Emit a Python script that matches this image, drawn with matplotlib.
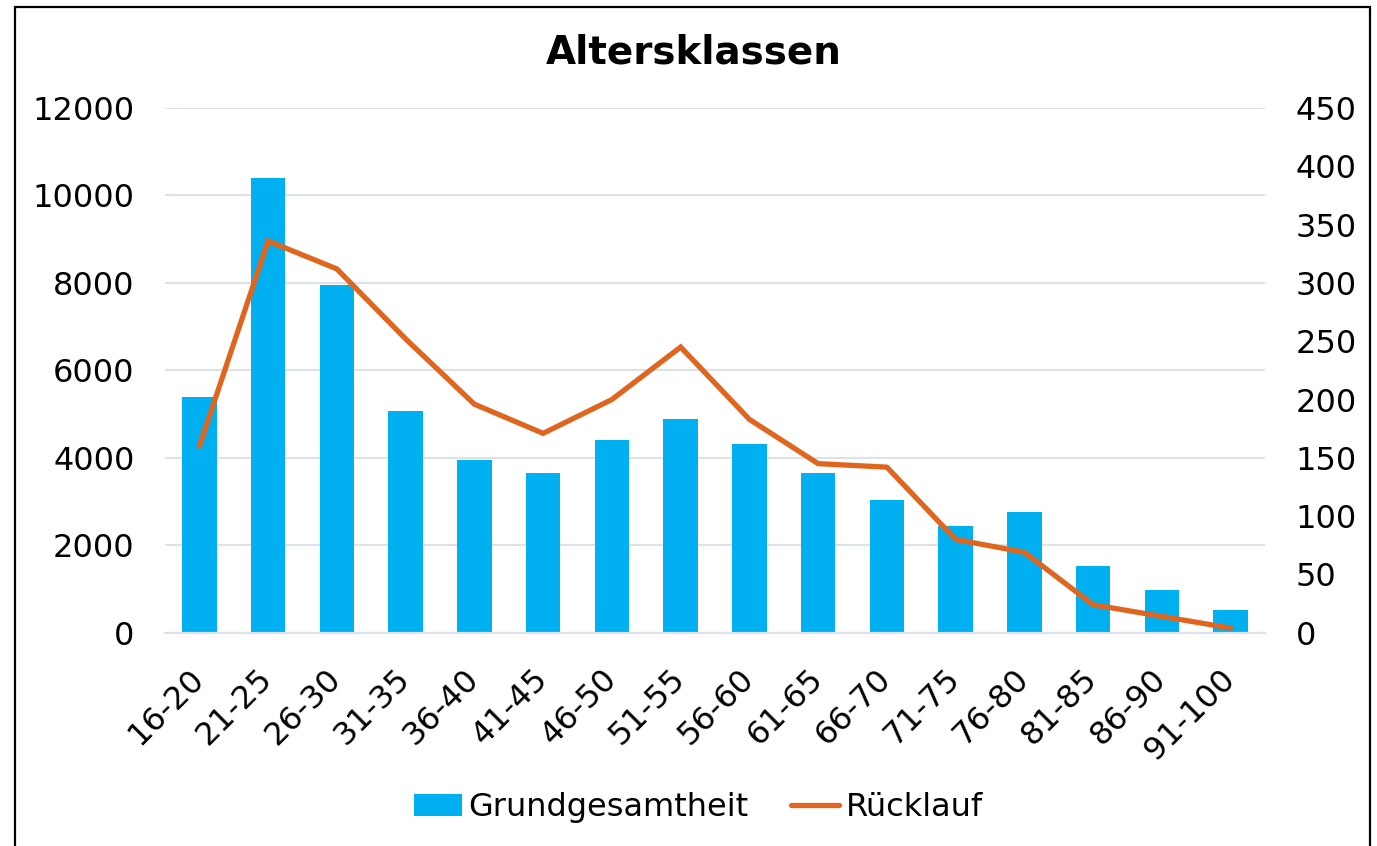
import numpy as np
import matplotlib.pyplot as plt
from matplotlib.patches import Rectangle

# Daten
klassen = ["16-20", "21-25", "26-30", "31-35", "36-40", "41-45", "46-50", "51-55",
           "56-60", "61-65", "66-70", "71-75", "76-80", "81-85", "86-90", "91-100"]
grundgesamtheit = [5390, 10390, 7950, 5070, 3960, 3650, 4410, 4880,
                   4310, 3660, 3030, 2430, 2770, 1530, 970, 510]
ruecklauf = [160, 336, 312, 252, 196, 171, 200, 245,
             183, 145, 142, 80, 69, 24, 14, 4]

blau = "#00B0F0"
orange = "#E0661F"
grid_farbe = "#DDE1E8"


def main():
    plt.rcParams['font.family'] = ['DejaVu Sans']
    fig = plt.figure(figsize=(13.77, 8.46), dpi=100)
    ax = fig.add_axes([0.1198, 0.2521, 0.7989, 0.6202])
    ax2 = ax.twinx()

    x = np.arange(len(klassen))
    ax.bar(x, grundgesamtheit, width=0.5, color=blau, zorder=2, label="Grundgesamtheit")
    ax2.plot(x, ruecklauf, color=orange, linewidth=3.8, solid_capstyle='round',
             solid_joinstyle='miter', label="Rücklauf")

    ax.set_xlim(-0.5, len(klassen) - 0.5)
    ax.set_ylim(0, 12000)
    ax2.set_ylim(0, 450)
    ax.set_yticks(np.arange(0, 12001, 2000))
    ax2.set_yticks(np.arange(0, 451, 50))

    ax.yaxis.grid(True, color=grid_farbe, linewidth=1.5, zorder=0)
    ax.set_axisbelow(True)
    for a in (ax, ax2):
        for s in ("top", "left", "right"):
            a.spines[s].set_visible(False)
        a.spines["bottom"].set_color(grid_farbe)
        a.spines["bottom"].set_linewidth(1.5)
        a.tick_params(length=0, labelsize=23)
    ax.tick_params(axis='y', pad=22)
    ax2.tick_params(axis='y', pad=22)

    ax.set_xticks(x)
    ax.set_xticklabels(klassen, rotation=45, ha='right', va='center',
                       rotation_mode='anchor')
    ax.tick_params(axis='x', pad=30)

    fig.text(0.504, 0.938, "Altersklassen", ha='center', va='center',
             fontsize=28, fontweight='bold')

    h1, l1 = ax.get_legend_handles_labels()
    h2, l2 = ax2.get_legend_handles_labels()
    fig.legend(h1 + h2, l1 + l2, loc='center', bbox_to_anchor=(0.507, 0.045),
               ncol=2, frameon=False, fontsize=23, handlelength=1.5,
               handletextpad=0.2, columnspacing=1.35)

    # Rahmen
    fig.patches.append(Rectangle((15 / 1377, -0.1), 1355 / 1377, 1.1 - 7 / 846,
                                 transform=fig.transFigure, fill=False,
                                 edgecolor='black', linewidth=1.6))

    fig.savefig("out.png", dpi=100)


if __name__ == "__main__":
    main()
